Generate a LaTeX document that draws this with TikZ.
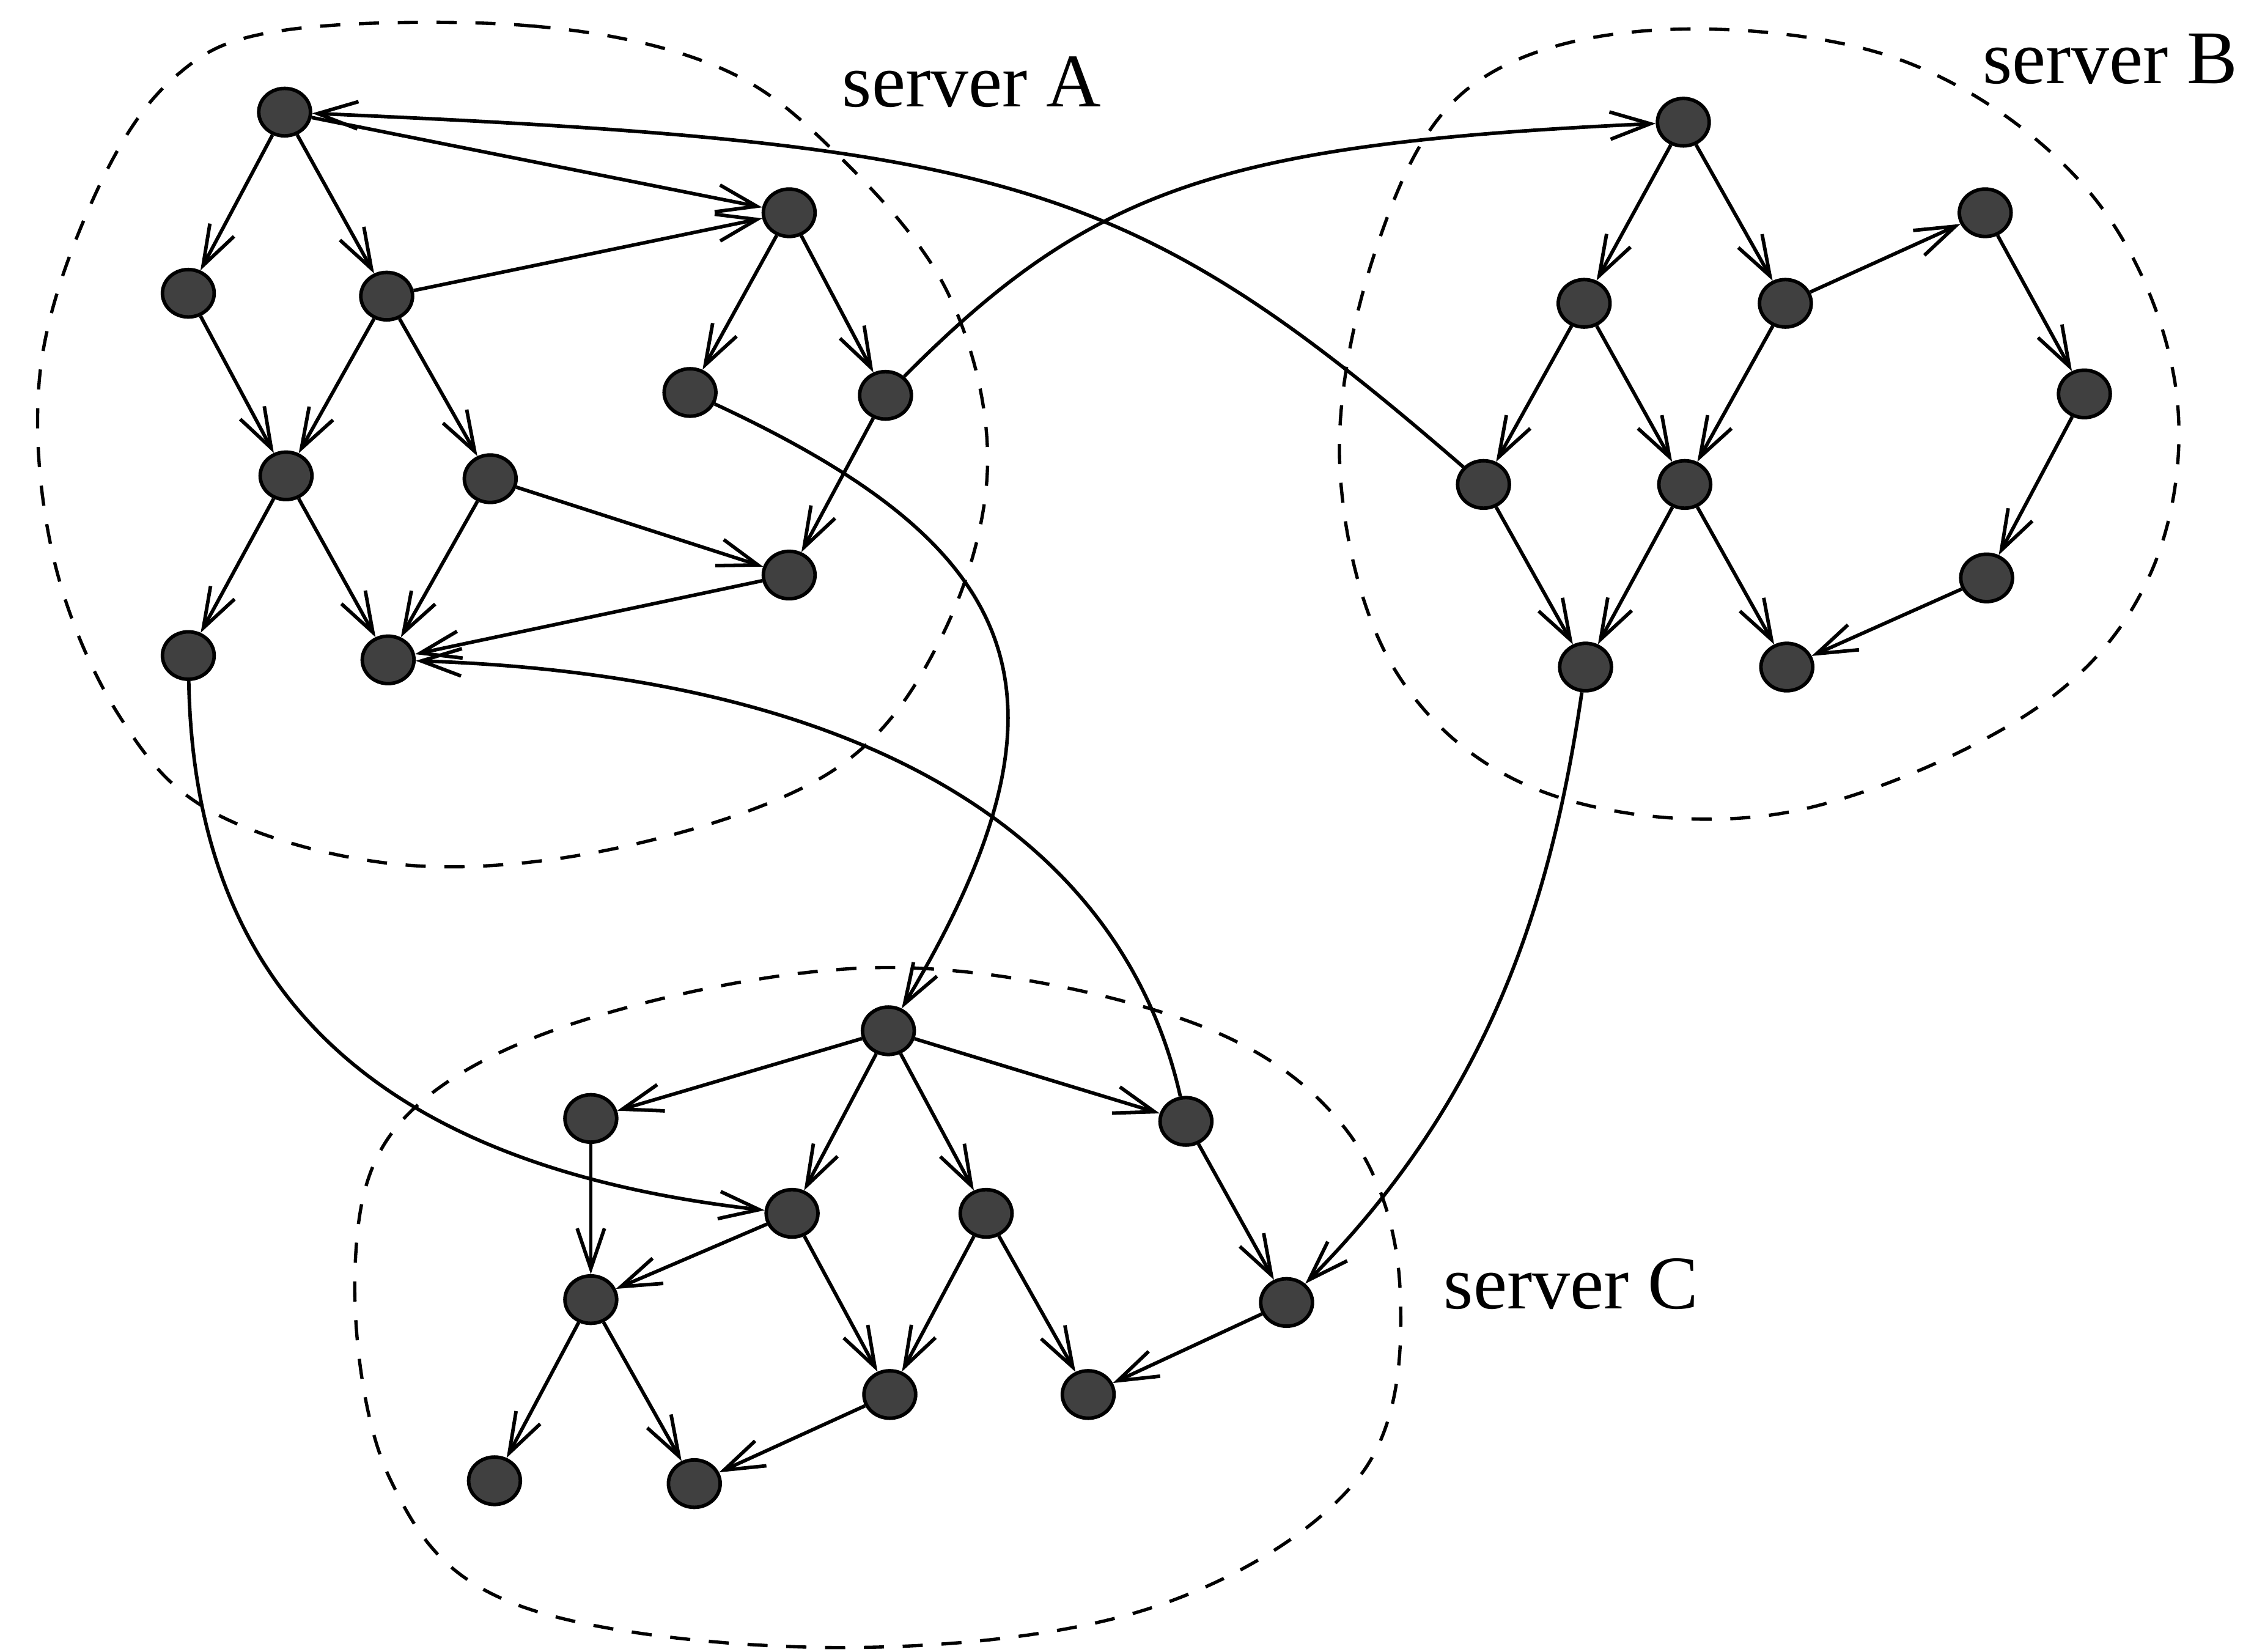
\documentclass[tikz,border=0pt]{standalone}
\usepackage{fontspec}
\setmainfont{Liberation Serif}
\usetikzlibrary{arrows.meta,shapes.geometric}

\begin{document}
\begin{tikzpicture}[
        x=0.1mm, y=-0.1mm,
        dot/.style={draw, ellipse, fill=black!75, inner sep=0pt, line width=0.7pt,
                    minimum width=3.6mm, minimum height=3.3mm},
        arr/.style={-{Straight Barb[length=2.8mm, width=1.9mm]}, line width=0.7pt},
        region/.style={dash pattern=on 1.4mm off 1.3mm, line width=0.65pt},
        lab/.style={font=\fontsize{15}{18}\selectfont}
    ]
        \useasboundingbox (0,0) rectangle (1568,1149);

        % server A
        \node[dot] (a1)  at ( 198,  78) {};
        \node[dot] (a2)  at ( 131, 204) {};
        \node[dot] (a3)  at ( 269, 206) {};
        \node[dot] (a4)  at ( 199, 331) {};
        \node[dot] (a5)  at ( 341, 333) {};
        \node[dot] (a6)  at ( 131, 456) {};
        \node[dot] (a7)  at ( 270, 459) {};
        \node[dot] (a8)  at ( 549, 148) {};
        \node[dot] (a9)  at ( 480, 273) {};
        \node[dot] (a10) at ( 616, 275) {};
        \node[dot] (a11) at ( 549, 400) {};

        % server B
        \node[dot] (b1)  at (1171,  85) {};
        \node[dot] (b2)  at (1102, 211) {};
        \node[dot] (b3)  at (1242, 211) {};
        \node[dot] (b4)  at (1381, 148) {};
        \node[dot] (b5)  at (1032, 337) {};
        \node[dot] (b6)  at (1172, 337) {};
        \node[dot] (b7)  at (1450, 274) {};
        \node[dot] (b8)  at (1103, 464) {};
        \node[dot] (b9)  at (1243, 464) {};
        \node[dot] (b10) at (1382, 402) {};

        % server C
        \node[dot] (c1)  at ( 618, 717) {};
        \node[dot] (c2)  at ( 411, 778) {};
        \node[dot] (c3)  at ( 825, 780) {};
        \node[dot] (c4)  at ( 551, 844) {};
        \node[dot] (c5)  at ( 686, 844) {};
        \node[dot] (c6)  at ( 411, 904) {};
        \node[dot] (c7)  at ( 895, 906) {};
        \node[dot] (c8)  at ( 619, 970) {};
        \node[dot] (c9)  at ( 757, 970) {};
        \node[dot] (c10) at ( 344,1030) {};
        \node[dot] (c11) at ( 483,1032) {};

        \node[lab] (labA) at ( 676,  57) {server A};
        \node[lab] (labB) at (1468,  41) {server B};
        \node[lab] (labC) at (1093, 893) {server C};

        % server boundaries
        \draw[region] plot[smooth cycle, tension=0.6] coordinates {
            (198,21) (369,18) (498,46) (581,106) (659,203) (687,323)
            (655,443) (581,535) (438,588) (286,602) (152,567)
            (83,498) (37,387) (28,258) (65,138) (120,55)};
        \draw[region] plot[smooth cycle, tension=0.6] coordinates {
            (1151,21) (1323,42) (1453,133) (1513,266) (1496,399)
            (1410,497) (1238,566) (1074,551) (971,467) (932,323)
            (958,171) (1022,61)};
        \draw[region] plot[smooth cycle, tension=0.6] coordinates {
            (618,673) (823,709) (935,784) (974,898) (945,1028)
            (799,1119) (579,1146) (359,1116) (271,1028) (247,882)
            (281,778) (408,709)};

        % edges in server A
        \draw[arr] (a1)  -- (a2);
        \draw[arr] (a1)  -- (a3);
        \draw[arr] (a1)  -- (a8);
        \draw[arr] (a3)  -- (a8);
        \draw[arr] (a2)  -- (a4);
        \draw[arr] (a3)  -- (a4);
        \draw[arr] (a3)  -- (a5);
        \draw[arr] (a4)  -- (a6);
        \draw[arr] (a4)  -- (a7);
        \draw[arr] (a5)  -- (a7);
        \draw[arr] (a5)  -- (a11);
        \draw[arr] (a11) -- (a7);
        \draw[arr] (a8)  -- (a9);
        \draw[arr] (a8)  -- (a10);
        \draw[arr] (a10) -- (a11);

        % edges in server B
        \draw[arr] (b1)  -- (b2);
        \draw[arr] (b1)  -- (b3);
        \draw[arr] (b3)  -- (b4);
        \draw[arr] (b4)  -- (b7);
        \draw[arr] (b7)  -- (b10);
        \draw[arr] (b10) -- (b9);
        \draw[arr] (b2)  -- (b5);
        \draw[arr] (b2)  -- (b6);
        \draw[arr] (b3)  -- (b6);
        \draw[arr] (b5)  -- (b8);
        \draw[arr] (b6)  -- (b8);
        \draw[arr] (b6)  -- (b9);

        % edges in server C
        \draw[arr] (c1)  -- (c2);
        \draw[arr] (c1)  -- (c3);
        \draw[arr] (c1)  -- (c4);
        \draw[arr] (c1)  -- (c5);
        \draw[arr] (c2)  -- (c6);
        \draw[arr] (c4)  -- (c6);
        \draw[arr] (c4)  -- (c8);
        \draw[arr] (c5)  -- (c8);
        \draw[arr] (c5)  -- (c9);
        \draw[arr] (c3)  -- (c7);
        \draw[arr] (c7)  -- (c9);
        \draw[arr] (c6)  -- (c10);
        \draw[arr] (c6)  -- (c11);
        \draw[arr] (c8)  -- (c11);

        % remote edges
        \draw[arr] (b5)  .. controls (787,125) and (705,100) .. (a1);
        \draw[arr] (a10) .. controls (760,130) and (850,100) .. (b1);
        \draw[arr] (a9)  .. controls (710,380) and (760,480) .. (c1);
        \draw[arr] (c3)  .. controls (780,580) and (600,470) .. (a7);
        \draw[arr] (a6)  .. controls (135,680) and (250,810) .. (c4);
        \draw[arr] (b8)  .. controls (1080,620) and (1040,760) .. (c7);
    \end{tikzpicture}
\end{document}
